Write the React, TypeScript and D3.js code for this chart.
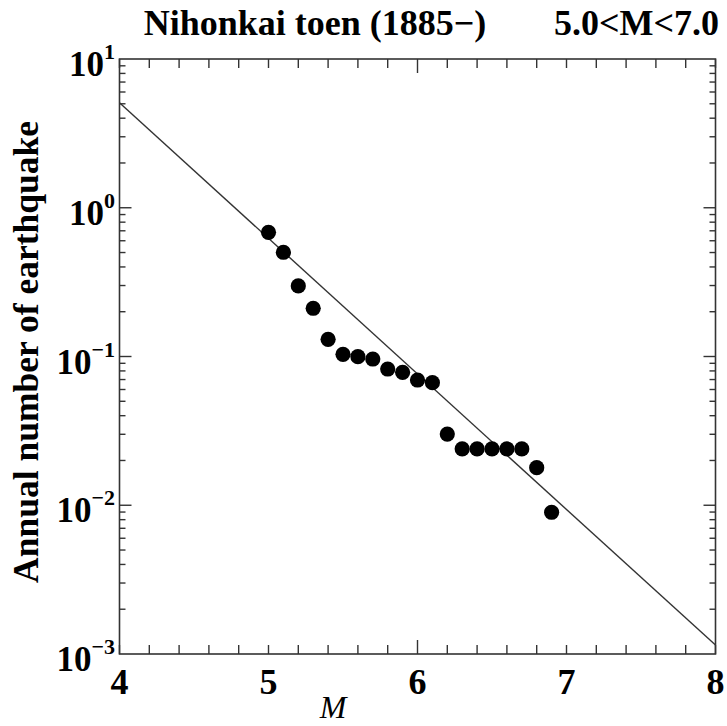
import React, { useEffect, useRef } from 'react';
import * as d3 from 'd3';

// magnitude bins and annual counts
const magnitudes = [5.0, 5.1, 5.2, 5.3, 5.4, 5.5, 5.6, 5.7, 5.8, 5.9, 6.0, 6.1, 6.2, 6.3, 6.4, 6.5, 6.6, 6.7, 6.8, 6.9];
const annualCounts = [0.684, 0.502, 0.298, 0.211, 0.1305, 0.1035, 0.0997, 0.0962, 0.0824, 0.0783, 0.0695, 0.0667, 0.0301, 0.0239, 0.0239, 0.0239, 0.0239, 0.0239, 0.0179, 0.00897];

// Gutenberg-Richter fit: log10 N = a - b M
const grA = 4.352;
const grB = 0.9115;
const fitRange = [4, 8];

const xTickValues = [4, 5, 6, 7, 8];
const yTickExponents = [1, 0, -1, -2, -3];

const titleLeft = 'Nihonkai toen (1885\u2212)';
const titleRight = '5.0<M<7.0';
const yLabel = 'Annual number of earthquake';
const xLabel = 'M';

const FONT = '"Liberation Serif", "Times New Roman", serif';

function App() {
  const svgRef = useRef<SVGSVGElement>(null);

  useEffect(() => {
    const svg = d3.select(svgRef.current);
    svg.selectAll('*').remove();

    const left = 119.5, right = 715.5, top = 59, bottom = 654;

    const x = d3.scaleLinear().domain([4, 8]).range([left, right]);
    const y = d3.scaleLog().domain([1e-3, 1e1]).range([bottom, top]);

    const frameColor = '#333';

    // fit line
    const fitData = fitRange.map((m) => ({ m, n: Math.pow(10, grA - grB * m) }));
    const line = d3.line<{ m: number; n: number }>()
      .x((d) => x(d.m))
      .y((d) => y(d.n));
    svg.append('path')
      .datum(fitData)
      .attr('d', line)
      .attr('stroke', '#333')
      .attr('stroke-width', 1.4)
      .attr('fill', 'none');

    // points
    svg.append('g')
      .selectAll('circle')
      .data(magnitudes.map((m, i) => ({ m, n: annualCounts[i] })))
      .join('circle')
      .attr('cx', (d) => x(d.m))
      .attr('cy', (d) => y(d.n))
      .attr('r', 7.6)
      .attr('fill', '#000');

    // x ticks (every 0.2), bottom and top
    const xMinor = d3.range(0, 21).map((i) => 4 + i * 0.2);
    const tickG = svg.append('g').attr('stroke', frameColor).attr('stroke-width', 1.4);
    xMinor.forEach((m) => {
      const len = Math.abs(m - 6) < 1e-6 ? 14 : 9;
      tickG.append('line').attr('x1', x(m)).attr('x2', x(m)).attr('y1', bottom).attr('y2', bottom - len);
      tickG.append('line').attr('x1', x(m)).attr('x2', x(m)).attr('y1', top).attr('y2', top + len);
    });

    // y ticks, log minor ticks
    yTickExponents.forEach((e) => {
      const base = Math.pow(10, e);
      if (e > -3 && e < 1) {
        tickG.append('line').attr('x1', left).attr('x2', left + 12).attr('y1', y(base)).attr('y2', y(base));
        tickG.append('line').attr('x1', right).attr('x2', right - 12).attr('y1', y(base)).attr('y2', y(base));
      }
      if (e < 1) {
        d3.range(2, 10).forEach((k) => {
          const v = base * k;
          tickG.append('line').attr('x1', left).attr('x2', left + 6).attr('y1', y(v)).attr('y2', y(v));
          tickG.append('line').attr('x1', right).attr('x2', right - 6).attr('y1', y(v)).attr('y2', y(v));
        });
      }
    });

    // frame
    svg.append('rect')
      .attr('x', left).attr('y', top)
      .attr('width', right - left).attr('height', bottom - top)
      .attr('fill', 'none')
      .attr('stroke', frameColor)
      .attr('stroke-width', 1.6);

    // x tick labels
    svg.append('g')
      .selectAll('text')
      .data(xTickValues)
      .join('text')
      .attr('x', (d) => x(d))
      .attr('y', 694)
      .attr('text-anchor', 'middle')
      .attr('font-family', FONT)
      .attr('font-weight', 'bold')
      .attr('font-size', 36)
      .text((d) => d);

    // y tick labels: 10^e
    const yl = svg.append('g');
    yTickExponents.forEach((e) => {
      const t = yl.append('text')
        .attr('x', 115)
        .attr('y', y(Math.pow(10, e)) + 17)
        .attr('text-anchor', 'end')
        .attr('font-family', FONT)
        .attr('font-weight', 'bold')
        .attr('font-size', 35);
      t.append('tspan').text('10');
      t.append('tspan')
        .attr('font-size', 22)
        .attr('dy', -17)
        .text(e < 0 ? '\u2212' + Math.abs(e) : String(e));
    });

    // axis titles
    svg.append('text')
      .attr('x', 333)
      .attr('y', 718)
      .attr('text-anchor', 'middle')
      .attr('font-family', FONT)
      .attr('font-style', 'italic')
      .attr('font-size', 32)
      .text(xLabel);

    svg.append('text')
      .attr('transform', `translate(38, 352) rotate(-90)`)
      .attr('text-anchor', 'middle')
      .attr('font-family', FONT)
      .attr('font-weight', 'bold')
      .attr('font-size', 35.5)
      .text(yLabel);

    // titles
    svg.append('text')
      .attr('x', 315)
      .attr('y', 35)
      .attr('text-anchor', 'middle')
      .attr('font-family', FONT)
      .attr('font-weight', 'bold')
      .attr('font-size', 36)
      .text(titleLeft);

    svg.append('text')
      .attr('x', 719)
      .attr('y', 35)
      .attr('text-anchor', 'end')
      .attr('font-family', FONT)
      .attr('font-weight', 'bold')
      .attr('font-size', 36)
      .text(titleRight);
  }, []);

  return (
    <svg
      ref={svgRef}
      width={727}
      height={726}
      style={{ position: 'absolute', left: 0, top: 0, background: '#fff' }}
    ></svg>
  );
}

export default App;
